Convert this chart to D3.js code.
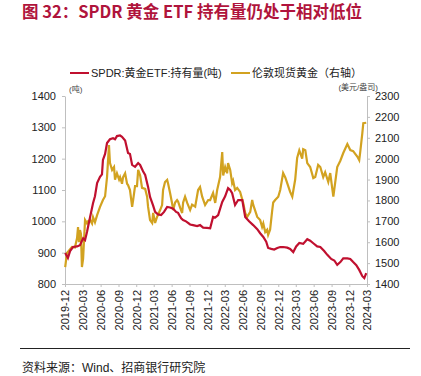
<!DOCTYPE html>
<html>
<head>
<meta charset="utf-8">
<script src="https://cdn.jsdelivr.net/npm/d3@7"></script>
<style>
  body { margin: 0; background: #fff; }
  text { font-family: "Liberation Sans", Arial, "Noto Sans CJK SC", sans-serif; }
</style>
</head>
<body>
<svg width="421" height="376"></svg>
<script>
// SPDR gold ETF holdings (tonnes), left axis
const spdrDates = ['2019-12-02','2019-12-16','2019-12-27','2020-01-11','2020-02-01','2020-02-16','2020-03-03','2020-03-13','2020-03-23','2020-04-08','2020-04-23','2020-05-03','2020-05-14','2020-05-29','2020-06-08','2020-06-13','2020-06-24','2020-07-04','2020-07-19','2020-08-04','2020-08-14','2020-08-24','2020-09-09','2020-09-19','2020-10-05','2020-10-20','2020-10-30','2020-11-10','2020-11-25','2020-12-11','2020-12-21','2021-01-05','2021-01-16','2021-01-31','2021-02-10','2021-02-26','2021-03-08','2021-03-23','2021-04-08','2021-04-23','2021-05-09','2021-05-24','2021-06-09','2021-06-24','2021-07-04','2021-07-20','2021-07-30','2021-08-14','2021-09-04','2021-09-19','2021-10-10','2021-10-25','2021-11-10','2021-11-30','2021-12-16','2021-12-31','2022-01-11','2022-01-26','2022-02-16','2022-03-03','2022-03-18','2022-03-29','2022-04-08','2022-04-23','2022-05-09','2022-05-30','2022-06-14','2022-07-04','2022-07-25','2022-08-15','2022-08-30','2022-09-15','2022-09-30','2022-10-10','2022-10-26','2022-11-10','2022-11-26','2022-12-11','2022-12-26','2023-01-16','2023-01-31','2023-02-16','2023-03-03','2023-03-19','2023-04-08','2023-04-29','2023-05-14','2023-05-30','2023-06-19','2023-07-05','2023-07-25','2023-08-10','2023-08-30','2023-09-15','2023-09-30','2023-10-16','2023-10-31','2023-11-21','2023-12-06','2023-12-21','2024-01-06','2024-01-21','2024-02-06','2024-02-16','2024-02-26'];
const spdrValues = [899,883,905,918,920,924,946,940,966,1014,1058,1080,1122,1142,1150,1196,1215,1250,1262,1265,1262,1272,1274,1270,1258,1218,1215,1180,1174,1186,1180,1160,1148,1110,1078,1050,1030,1022,1020,1030,1046,1044,1040,1030,1027,1010,1004,1000,990,988,985,988,980,979,978,1014,1012,1020,1062,1080,1106,1100,1090,1052,1068,1068,1014,1000,988,975,962,950,935,915,912,910,915,918,918,916,912,902,920,931,928,943,938,930,920,918,905,893,880,875,861,870,882,882,880,870,860,845,825,819,835];

// London spot gold (USD/oz), right axis
const goldDates = ['2019-12-02','2019-12-11','2019-12-22','2020-01-06','2020-01-21','2020-02-01','2020-02-06','2020-02-11','2020-02-16','2020-02-21','2020-02-26','2020-03-03','2020-03-13','2020-03-23','2020-03-28','2020-04-08','2020-04-18','2020-04-23','2020-05-03','2020-05-14','2020-05-29','2020-06-13','2020-06-24','2020-07-04','2020-07-14','2020-07-19','2020-07-30','2020-08-09','2020-08-14','2020-08-24','2020-09-04','2020-09-09','2020-09-19','2020-09-24','2020-10-05','2020-10-15','2020-10-20','2020-10-30','2020-11-10','2020-11-15','2020-11-25','2020-12-05','2020-12-11','2020-12-21','2020-12-31','2021-01-16','2021-01-26','2021-01-31','2021-02-10','2021-02-21','2021-02-26','2021-03-08','2021-03-18','2021-04-03','2021-04-13','2021-04-18','2021-04-28','2021-05-09','2021-05-14','2021-05-24','2021-06-03','2021-06-09','2021-06-19','2021-06-29','2021-07-04','2021-07-15','2021-07-25','2021-07-30','2021-08-09','2021-08-20','2021-09-04','2021-09-14','2021-09-30','2021-10-15','2021-10-25','2021-11-05','2021-11-20','2021-12-06','2021-12-16','2021-12-31','2022-01-11','2022-01-21','2022-02-05','2022-02-16','2022-02-21','2022-03-03','2022-03-13','2022-03-18','2022-03-29','2022-04-08','2022-04-13','2022-04-23','2022-05-04','2022-05-19','2022-06-04','2022-06-14','2022-06-24','2022-07-10','2022-07-20','2022-07-25','2022-08-15','2022-08-30','2022-09-09','2022-09-15','2022-09-25','2022-10-05','2022-10-10','2022-10-20','2022-10-31','2022-11-05','2022-11-15','2022-12-01','2022-12-11','2022-12-26','2023-01-06','2023-01-16','2023-01-31','2023-02-11','2023-02-26','2023-03-08','2023-03-19','2023-04-03','2023-04-08','2023-04-19','2023-04-29','2023-05-14','2023-05-30','2023-06-09','2023-06-24','2023-07-05','2023-07-20','2023-07-30','2023-08-15','2023-08-25','2023-09-10','2023-09-30','2023-10-16','2023-10-31','2023-11-21','2023-12-06','2023-12-21','2024-01-11','2024-01-21','2024-01-26','2024-02-06','2024-02-11','2024-02-26'];
const goldValues = [1481,1548,1560,1577,1575,1620,1673,1600,1658,1640,1481,1520,1706,1690,1700,1706,1690,1720,1695,1730,1769,1802,1820,1912,2065,1980,1946,1960,1900,1930,1900,1912,1880,1910,1930,1880,1874,1850,1769,1800,1869,1869,1946,1920,1860,1855,1818,1769,1706,1692,1740,1692,1721,1754,1778,1850,1888,1898,1880,1836,1788,1754,1790,1802,1795,1764,1740,1790,1818,1788,1754,1780,1770,1850,1864,1818,1778,1802,1802,1836,1788,1850,1912,2032,1920,1960,1930,1979,1946,1883,1895,1850,1860,1841,1788,1740,1721,1745,1802,1780,1721,1706,1673,1690,1649,1660,1635,1660,1754,1790,1802,1818,1850,1931,1910,1883,1841,1818,1900,2003,2040,2000,2045,2040,1979,1960,1907,1912,1970,1960,1912,1935,1888,1931,1818,1960,1990,2027,2070,2041,2036,2010,1993,2030,2122,2170,2172];

const tickMonths = ['2019-12','2020-03','2020-06','2020-09','2020-12','2021-03','2021-06','2021-09','2021-12','2022-03','2022-06','2022-09','2022-12','2023-03','2023-06','2023-09','2023-12','2024-03'];
const leftTicks = [800, 900, 1000, 1100, 1200, 1300, 1400];
const rightTicks = [1400, 1500, 1600, 1700, 1800, 1900, 2000, 2100, 2200, 2300];

const parse = d3.timeParse('%Y-%m-%d');
const parseM = d3.timeParse('%Y-%m');
const spdr = spdrDates.map((d, i) => ({ date: parse(d), value: spdrValues[i] }));
const gold = goldDates.map((d, i) => ({ date: parse(d), value: goldValues[i] }));

const svg = d3.select('svg'),
  margin = { top: 96, right: 55, bottom: 92, left: 65 },
  width = 367 - margin.left,
  height = 284 - margin.top;

const red = '#c0102f', yellow = '#d2a220', axisColor = '#bfbfbf';

// title
svg.append('text')
  .attr('x', 22).attr('y', 18)
  .style('font-family', '"Noto Sans CJK SC", sans-serif')
  .style('font-size', '16.5px').style('font-weight', 'bold')
  .style('fill', '#b0143c')
  .text('图 32：SPDR 黄金 ETF 持有量仍处于相对低位');

const g = svg.append('g').attr('transform', 'translate(' + margin.left + ',' + margin.top + ')');

const x = d3.scaleTime().range([0, width]).domain([parseM(tickMonths[0]), parseM(tickMonths[tickMonths.length - 1])]);
const yL = d3.scaleLinear().range([height, 0]).domain([800, 1400]);
const yR = d3.scaleLinear().range([height, 0]).domain([1400, 2300]);

const fmt = d3.timeFormat('%Y-%m');

const xAxis = g.append('g')
  .attr('transform', 'translate(0,' + height + ')')
  .call(d3.axisBottom(x).tickValues(tickMonths.map(parseM)).tickFormat(fmt).tickSize(3).tickSizeOuter(0));
xAxis.selectAll('text')
  .attr('transform', 'rotate(-90)')
  .attr('text-anchor', 'end')
  .attr('x', -6).attr('y', 0).attr('dy', '0.35em');

const yAxisL = g.append('g')
  .call(d3.axisLeft(yL).tickValues(leftTicks).tickFormat(d3.format('d')).tickSize(3).tickSizeOuter(0).tickPadding(6));

const yAxisR = g.append('g')
  .attr('transform', 'translate(' + width + ',0)')
  .call(d3.axisRight(yR).tickValues(rightTicks).tickFormat(d3.format('d')).tickSize(3).tickSizeOuter(0).tickPadding(5));

[xAxis, yAxisL, yAxisR].forEach(a => {
  a.selectAll('path, line').attr('stroke', axisColor);
  a.selectAll('text').style('font-size', '11px').style('fill', '#222');
});

const lineL = d3.line().x(d => x(d.date)).y(d => yL(d.value));
const lineR = d3.line().x(d => x(d.date)).y(d => yR(d.value));

g.append('path').datum(gold)
  .attr('d', lineR).attr('fill', 'none').attr('stroke', yellow).attr('stroke-width', 2.2);
g.append('path').datum(spdr)
  .attr('d', lineL).attr('fill', 'none').attr('stroke', red).attr('stroke-width', 2.2);

// legend
const legend = [
  { name: 'SPDR:黄金ETF:持有量(吨)', color: red, x: 70 },
  { name: '伦敦现货黄金（右轴）', color: yellow, x: 231 }
];
legend.forEach(l => {
  svg.append('line').attr('x1', l.x).attr('x2', l.x + 19).attr('y1', 73).attr('y2', 73)
    .attr('stroke', l.color).attr('stroke-width', 2);
  svg.append('text').attr('x', l.x + 21).attr('y', 77)
    .style('font-size', '11px').style('fill', '#222').text(l.name);
});

// unit labels
svg.append('text').attr('x', 69).attr('y', 92).style('font-size', '8px').style('fill', '#444').text('(吨)');
svg.append('text').attr('x', 378).attr('y', 90).attr('text-anchor', 'end')
  .style('font-size', '8px').style('fill', '#444').text('(美元/盎司)');

// source
svg.append('line').attr('x1', 20).attr('x2', 410).attr('y1', 348.5).attr('y2', 348.5)
  .attr('stroke', '#222').attr('stroke-width', 1);
svg.append('text').attr('x', 22).attr('y', 372)
  .style('font-size', '12px').style('fill', '#222')
  .text('资料来源：Wind、招商银行研究院');
</script>
</body>
</html>
